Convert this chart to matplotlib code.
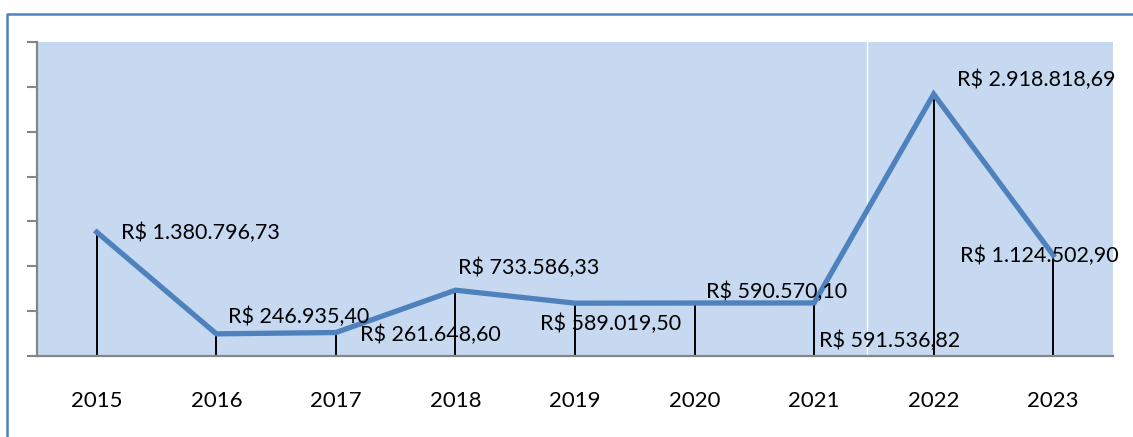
import matplotlib.pyplot as plt
from matplotlib.lines import Line2D

years = ['2015', '2016', '2017', '2018', '2019', '2020', '2021', '2022', '2023']
valores = [1380796.73, 246935.40, 261648.60, 733586.33, 589019.50,
           590570.10, 591536.82, 2918818.69, 1124502.90]
rotulos = ['R$ 1.380.796,73', 'R$ 246.935,40', 'R$ 261.648,60', 'R$ 733.586,33',
           'R$ 589.019,50', 'R$ 590.570,10', 'R$ 591.536,82', 'R$ 2.918.818,69',
           'R$ 1.124.502,90']
# label offsets in pixels (left edge, vertical centre) relative to each point
offsets = [(24, -1), (12, 17), (24, -2), (3, 22), (-35, -21),
           (11, 11), (5, -38), (23, 14), (-93, -1)]

plt.rcParams['font.family'] = ['Lato', 'DejaVu Sans']

fig = plt.figure(figsize=(11.33, 4.37), dpi=100)
ax = fig.add_axes([37/1133, 1-356/437, 1076/1133, 314/437])
ax.set_facecolor('#C6D9F1')

x = list(range(len(years)))
ax.vlines(x, 0, valores, color='black', lw=1.4, zorder=2)
ax.plot(x, valores, color='#4F81BD', lw=3.8, zorder=3, solid_joinstyle='miter')
ax.axvline(6.44, color='white', lw=1, zorder=1)

for i, (v, t, off) in enumerate(zip(valores, rotulos, offsets)):
    ax.annotate(t, xy=(i, v), xytext=off, textcoords='offset pixels',
                ha='left', va='center', fontsize=15.5, color='black', zorder=4)

ax.set_xlim(-0.5, len(years)-0.5)
ax.set_ylim(0, 3500000)
ax.set_yticks([i*500000 for i in range(8)])
ax.set_yticklabels([])
ax.set_xticks(x)
ax.set_xticklabels(years, fontsize=16)
ax.tick_params(axis='x', length=0, pad=25)
ax.tick_params(axis='y', length=7, width=1.5, color='#868686', direction='out')

for s in ['top', 'right']:
    ax.spines[s].set_visible(False)
for s in ['left', 'bottom']:
    ax.spines[s].set_color('#868686')
    ax.spines[s].set_linewidth(1.6)

# outer chart border (cut off on right and bottom)
fig.add_artist(Line2D([7/1133, 7/1133, 1.0], [0.0, 1-14/437, 1-14/437],
                      transform=fig.transFigure, color='#4F81BD', lw=1.8))

fig.savefig('out.png', dpi=100)
